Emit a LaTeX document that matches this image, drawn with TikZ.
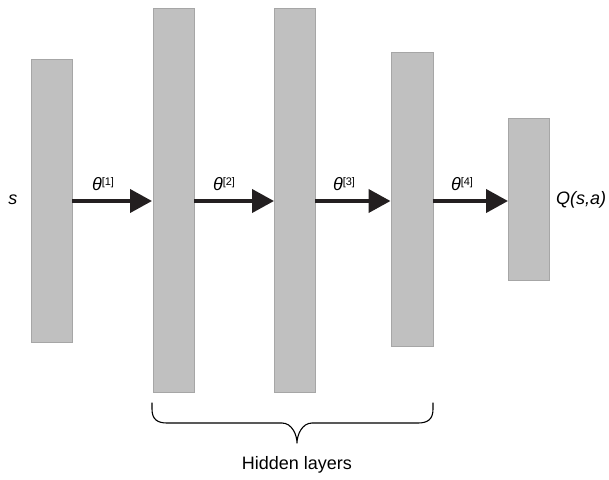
\documentclass[tikz,border=0pt]{standalone}
\usepackage{fontspec}
\setmainfont{Liberation Sans}
\usetikzlibrary{arrows.meta}
\definecolor{layergray}{HTML}{C0C0C0}
\definecolor{layeredge}{HTML}{A6A6A6}
\definecolor{arrowdark}{HTML}{231F20}
\begin{document}
\begin{tikzpicture}[x=1pt,y=-1pt,
  layer/.style={draw=layeredge,fill=layergray,line width=1pt,inner sep=0pt,anchor=north west},
  flow/.style={draw=arrowdark,line width=4pt,-{Triangle[length=22pt,width=23pt]}},
  lbl/.style={font=\fontsize{18}{20}\selectfont\itshape,inner sep=0pt},
  sup/.style={}]
\useasboundingbox (0,0) rectangle (609,479);
\node[layer,minimum width=41pt,minimum height=283pt] (l1) at (31,59) {};
\node[layer,minimum width=41pt,minimum height=384pt] (l2) at (152.5,8) {};
\node[layer,minimum width=41pt,minimum height=384pt] (l3) at (274,8) {};
\node[layer,minimum width=42pt,minimum height=294pt] (l4) at (390.5,52) {};
\node[layer,minimum width=41pt,minimum height=162pt] (l5) at (508,118) {};
\coordinate (a1s) at (72,201); \coordinate (a1e) at (152,201);
\coordinate (a2s) at (194,201); \coordinate (a2e) at (274,201);
\coordinate (a3s) at (315,201); \coordinate (a3e) at (390.5,201);
\coordinate (a4s) at (432.5,201); \coordinate (a4e) at (508,201);
\draw[flow] (a1s) -- (a1e);
\draw[flow] (a2s) -- (a2e);
\draw[flow] (a3s) -- (a3e);
\draw[flow] (a4s) -- (a4e);
\node[lbl] (t1) at (103,184) {θ\raisebox{0.55ex}{\upshape\fontsize{11}{12}\selectfont[1]}};
\node[lbl] (t2) at (224,184) {θ\raisebox{0.55ex}{\upshape\fontsize{11}{12}\selectfont[2]}};
\node[lbl] (t3) at (344,184) {θ\raisebox{0.55ex}{\upshape\fontsize{11}{12}\selectfont[3]}};
\node[lbl] (t4) at (462,184) {θ\raisebox{0.55ex}{\upshape\fontsize{11}{12}\selectfont[4]}};
\node[lbl] (s) at (13,200) {s};
\node[lbl] (q) at (581,200) {Q(s,a)};
\coordinate (b1) at (152,403); \coordinate (b2) at (433,403); \coordinate (btip) at (297,443);
\draw[line width=1.1pt,line cap=round,line join=round]
  (b1) -- ++(0,6) .. controls +(0,10) and +(-10,0) .. (167,423)
  -- (282,423) .. controls +(10,0) and +(0,-8) .. (btip)
  .. controls +(0,-8) and +(-10,0) .. (312,423)
  -- (418,423) .. controls +(10,0) and +(0,10) .. (433,409) -- (b2);
\node[font=\fontsize{18}{20}\selectfont,inner sep=0pt] (hl) at (297,465) {Hidden layers};
\end{tikzpicture}
\end{document}
